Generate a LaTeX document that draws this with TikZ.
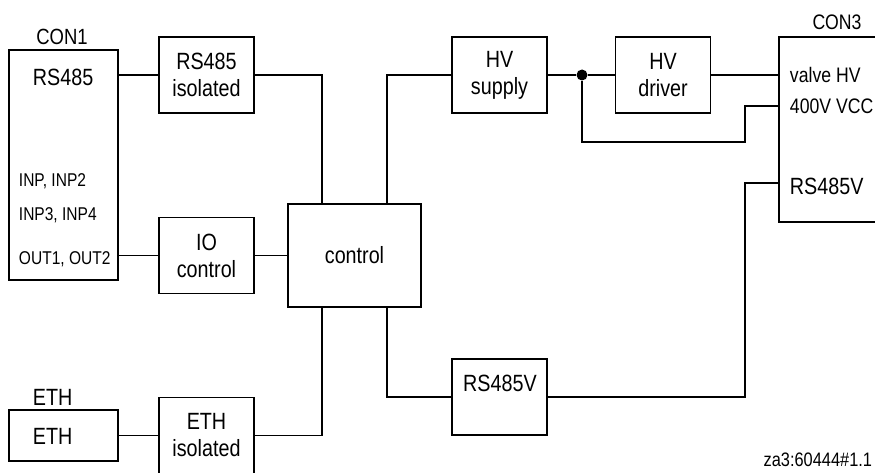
\documentclass[tikz,border=0pt]{standalone}
\usepackage{fontspec}
\setmainfont{Liberation Sans}[FakeStretch=0.84]
\usetikzlibrary{calc}
\newcommand\fsz[1]{\fontsize{#1}{27}\selectfont}
\begin{document}
\begin{tikzpicture}[x=1pt,y=-1pt,line width=1.9pt,
  box/.style={draw, inner sep=0pt, minimum width=95pt, minimum height=76pt, align=center, font=\fsz{23.5}},
  conbox/.style={draw, inner sep=0pt},
  lbl/.style={inner sep=0pt, text height=17pt, text depth=0pt, font=\fsz{23.5}},
  slbl/.style={inner sep=0pt, text height=14pt, text depth=0pt, font=\fsz{18.5}},
  mlbl/.style={inner sep=0pt, text height=15pt, text depth=0pt, font=\fsz{21}},
  junction/.style={circle, fill, inner sep=0pt, minimum size=11pt}]
\useasboundingbox (0,0) rectangle (875,473);
\fill[white] (0,0) rectangle (875,473);

% CON1
\node[conbox, minimum width=109pt, minimum height=230pt] (con1) at (63.5,165) {};
\node[lbl, font=\fsz{22}, text height=16pt] (con1t) at (62,37) {CON1};
\node[lbl, anchor=west] (c1rs) at (32,77) {RS485};
\node[slbl, anchor=west] (c1in1) at (18,180) {INP, INP2};
\node[slbl, anchor=west] (c1in2) at (18,213) {INP3, INP4};
\node[slbl, anchor=west] (c1out) at (18,257) {OUT1, OUT2};

% ETH
\node[conbox, minimum width=109pt, minimum height=51pt] (eth) at (63.5,435.5) {};
\node[lbl, anchor=west] (etht) at (32,397) {ETH};
\node[lbl, anchor=west] (ethin) at (32,435.5) {ETH};

% middle boxes
\node[box] (rs485iso) at (206.5,75) {RS485\\isolated};
\node[box] (io) at (206.5,255.5) {IO\\control};
\node[box] (ethiso) at (206.5,435.5) {ETH\\isolated};
\node[box, minimum width=133pt, minimum height=103pt] (control) at (354.5,255.5) {control};
\node[box] (hvs) at (499.5,75) {HV\\supply};
\node[box] (hvd) at (663,75) {HV\\driver};
\node[box] (rsv) at (499.5,397) {};
\node[lbl] (rsvt) at (500,383) {RS485V};

% CON3
\node[conbox, minimum width=116pt, minimum height=185pt] (con3) at (837,129.5) {};
\node[mlbl] (con3t) at (837,22.5) {CON3};
\node[mlbl, anchor=west] (c3v) at (789,75) {valve\ HV};
\node[mlbl, anchor=west] (c3vcc) at (789,106) {400V\ VCC};
\node[lbl, anchor=west] (c3rs) at (789,186) {RS485V};

\node[junction] (dot) at (582,75) {};
\node[inner sep=0pt, anchor=east, font=\fsz{19.5}] (ref) at (873,460) {za3:60444\#1.1};

% connection points
\coordinate (ct1) at ($(control.north west)+(35,0)$);
\coordinate (ct2) at ($(control.north east)+(-35,0)$);
\coordinate (cb1) at ($(control.south west)+(35,0)$);
\coordinate (cb2) at ($(control.south east)+(-35,0)$);
\coordinate (p400) at ($(con3.north west)+(0,70)$);
\coordinate (prs) at ($(con3.north west)+(0,147)$);
\coordinate (k) at (745,142);

% wires
\draw (rs485iso.west -| con1.east) -- (rs485iso.west);
\draw (rs485iso.east) -| (ct1);
\draw (io.west -| con1.east) -- (io.west);
\draw (io.east) -- (io.east -| control.west);
\draw (cb1) |- (ethiso.east);
\draw (eth.east) -- (ethiso.west);
\draw (ct2) |- (hvs.west);
\draw (cb2) |- (rsv.west);
\draw (hvs.east) -- (dot) -- (hvd.west);
\draw (hvd.east) -- (hvd.east -| con3.west);
\draw (dot) |- (k) |- (p400);
\draw (rsv.east) -| (k |- prs) -- (prs);
\end{tikzpicture}
\end{document}
